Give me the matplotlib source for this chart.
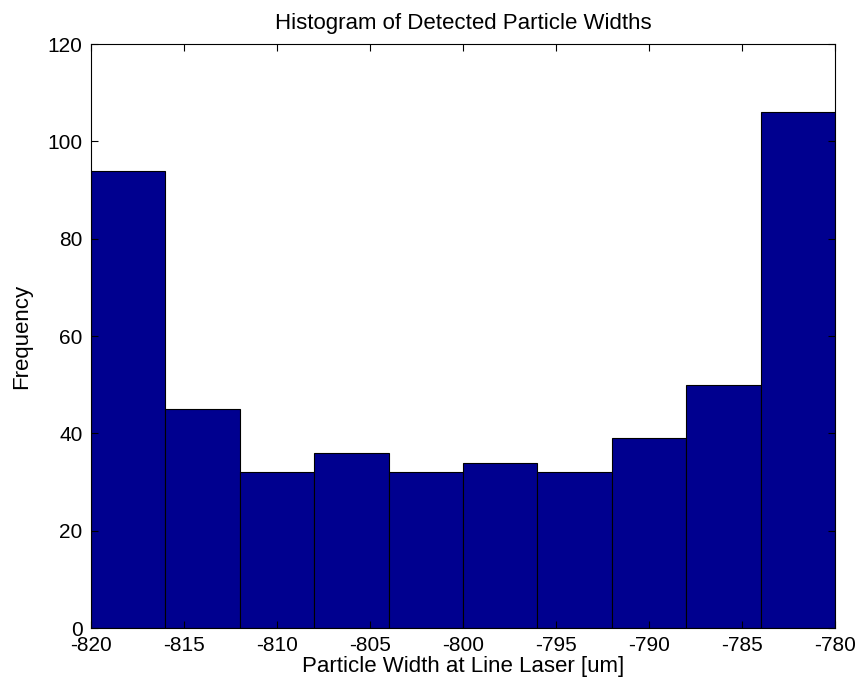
import numpy as np
import matplotlib.pyplot as plt

plt.rcParams['font.family'] = ['Liberation Sans', 'DejaVu Sans']
plt.rcParams['axes.unicode_minus'] = False

# histogram bins (um) and counts
bin_edges = [-820, -816, -812, -808, -804, -800, -796, -792, -788, -784, -780]
counts = [94, 45, 32, 36, 32, 34, 32, 39, 50, 106]
x_ticks = [-820, -815, -810, -805, -800, -795, -790, -785, -780]
y_ticks = [0, 20, 40, 60, 80, 100, 120]

fig = plt.figure(figsize=(8.55, 6.9), dpi=100)
ax = fig.add_axes([91 / 855, 62 / 690, 744 / 855, 584 / 690])

edges = np.array(bin_edges, dtype=float)
ax.bar(edges[:-1], counts, width=np.diff(edges), align='edge',
       color='#00008f', edgecolor='black', linewidth=0.8)

ax.set_xlim(-820, -780)
ax.set_ylim(0, 120)
ax.set_xticks(x_ticks)
ax.set_yticks(y_ticks)
ax.tick_params(direction='in', top=True, right=True, length=5,
               labelsize=15)
ax.tick_params(axis='x', pad=5.5)
ax.tick_params(axis='y', pad=6)
for s in ax.spines.values():
    s.set_linewidth(0.8)

ax.set_title('Histogram of Detected Particle Widths', fontsize=16, pad=11)
ax.set_xlabel('Particle Width at Line Laser [um]', fontsize=16, labelpad=1)
ax.set_ylabel('Frequency', fontsize=16, labelpad=11)

fig.savefig('out.png')
